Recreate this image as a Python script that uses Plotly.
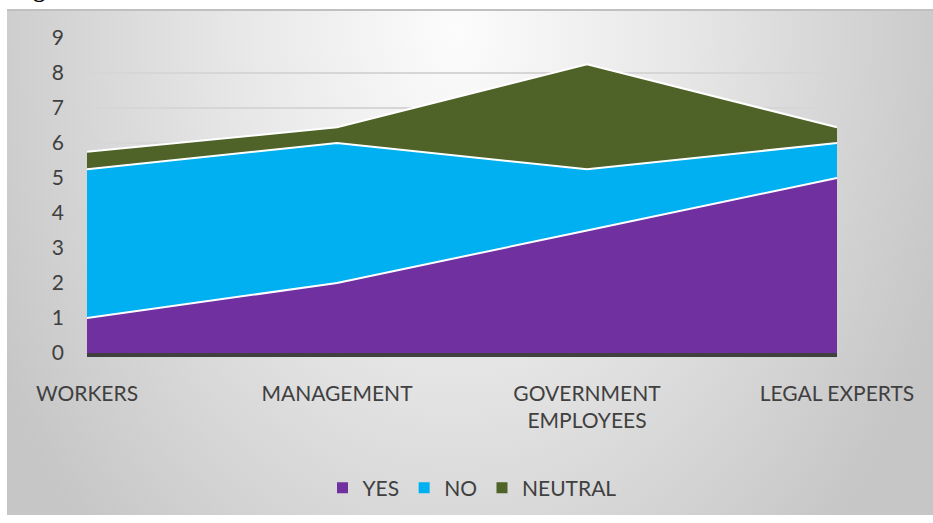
import base64
import plotly.graph_objects as go

# Survey groups and stacked response counts
categories = ["WORKERS", "MANAGEMENT", "GOVERNMENT<br>EMPLOYEES", "LEGAL EXPERTS"]
yes_vals = [1, 2, 3.5, 5]
no_vals = [4.25, 4, 1.75, 1]
neutral_vals = [0.5, 0.45, 3, 0.45]

series = [
    ("YES", yes_vals, "#7030A0"),
    ("NO", no_vals, "#00B0F0"),
    ("NEUTRAL", neutral_vals, "#4F6228"),
]

W, H = 933, 523
L, R, T, B = 87, 96, 38, 170
PW, PH = W - L - R, H - T - B
FONT = "Lato"
TXT = "#404040"


def px_x(p):
    return (p - L) / PW


def px_y(p):
    return (H - B - p) / PH


# Soft radial grey backdrop for the chart panel
svg = """<svg xmlns='http://www.w3.org/2000/svg' width='926' height='506'>
<defs><radialGradient id='g' gradientUnits='userSpaceOnUse' cx='0' cy='0' r='1'
 gradientTransform='translate(450,20) scale(520,720)'>
<stop offset='0' stop-color='#fcfcfc'/>
<stop offset='0.45' stop-color='#e6e6e6'/>
<stop offset='1' stop-color='#c6c6c6'/>
</radialGradient></defs>
<rect width='926' height='506' fill='url(#g)'/>
</svg>"""
bg_uri = "data:image/svg+xml;base64," + base64.b64encode(svg.encode()).decode()

fig = go.Figure()

for name, vals, color in series:
    fig.add_trace(go.Scatter(
        x=categories, y=vals, name=name, stackgroup="one",
        mode="lines", line=dict(color="white", width=2),
        fillcolor=color, showlegend=False, legendgroup=name,
        hoverinfo="x+y+name",
    ))

# Square legend swatches
for name, vals, color in series:
    fig.add_trace(go.Scatter(
        x=[None], y=[None], name=name, mode="markers",
        marker=dict(symbol="square", size=11, color=color),
        legendgroup=name, showlegend=True,
    ))

fig.update_layout(
    width=W, height=H,
    margin=dict(l=L, r=R, t=T, b=B),
    paper_bgcolor="white",
    plot_bgcolor="rgba(0,0,0,0)",
    font=dict(family=FONT, size=21, color=TXT),
    images=[dict(
        source=bg_uri, xref="paper", yref="paper",
        x=px_x(7), y=px_y(9), sizex=926 / PW, sizey=506 / PH,
        xanchor="left", yanchor="top", sizing="stretch", layer="below",
    )],
    shapes=[dict(
        type="line", xref="paper", yref="paper",
        x0=px_x(7), x1=px_x(933), y0=px_y(10), y1=px_y(10),
        line=dict(color="#c0c0c0", width=2),
    )],
    annotations=[dict(
        text="<b>Figure</b>", xref="paper", yref="paper",
        x=px_x(10), y=px_y(4), xanchor="left", yanchor="bottom",
        showarrow=False, font=dict(family="Liberation Serif", size=24, color="black"),
    )],
    xaxis=dict(
        type="category", range=[0, 3], showgrid=False, zeroline=False,
        showline=True, linecolor="#404040", linewidth=3.5, layer="above traces",
        ticks="", ticklabelstandoff=19,
        tickfont=dict(family=FONT, size=21, color=TXT),
    ),
    yaxis=dict(
        range=[0, 9], dtick=1, showgrid=True, gridcolor="#d6d6d6", gridwidth=2,
        zeroline=False, showline=False, ticks="", ticklabelstandoff=22,
        tickfont=dict(family=FONT, size=21, color=TXT),
    ),
    legend=dict(
        orientation="h", x=px_x(472), y=px_y(488), xanchor="center", yanchor="middle",
        bgcolor="rgba(0,0,0,0)", font=dict(family=FONT, size=21, color=TXT),
        itemwidth=30, tracegroupgap=0,
    ),
)

fig.write_html("out.html")
